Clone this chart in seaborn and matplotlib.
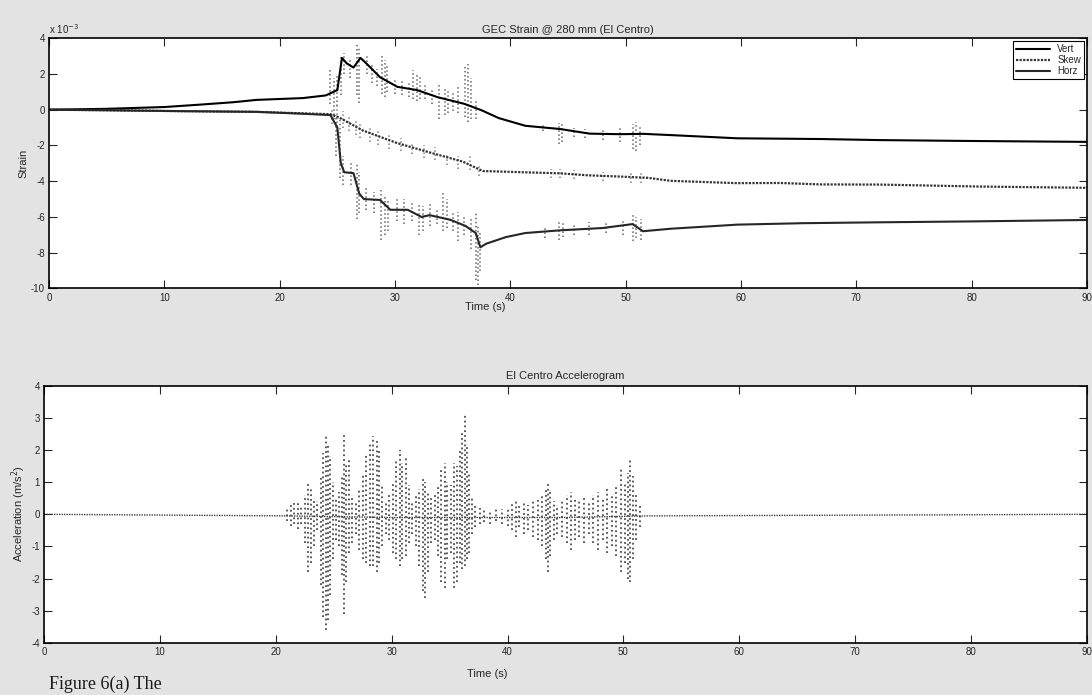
import matplotlib
matplotlib.use("Agg")
import matplotlib.pyplot as plt
import seaborn as sns

# ---- strain traces (units of 1e-3) ----
vert_t = [0, 5, 10, 13, 16, 18, 20, 22, 24, 25.0, 25.4, 25.8, 26.4, 27.0, 27.5, 28.7, 30.2,
          31.9, 33.7, 36.0, 37.5, 39.0, 41.3, 44.3, 46.9, 49.5, 51.5, 53.9, 59.7, 66.9, 72, 80, 90]
vert_v = [0, 0.05, 0.15, 0.28, 0.42, 0.55, 0.6, 0.65, 0.8, 1.1, 2.9, 2.6, 2.36, 2.9, 2.6, 1.82, 1.28,
          1.1, 0.7, 0.33, -0.03, -0.47, -0.9, -1.08, -1.34, -1.37, -1.35, -1.42, -1.6, -1.64, -1.7, -1.75, -1.8]

skew_t = [0, 5, 11.4, 18, 21.8, 24.4, 25.2, 27.2, 30.2, 33, 35.9, 37.6, 41.1, 44.3, 46.7, 49.5,
          51.9, 53.9, 59.7, 63.4, 66.9, 72.1, 80.7, 90]
skew_v = [0, -0.03, -0.08, -0.12, -0.2, -0.25, -0.45, -1.16, -1.87, -2.39, -2.91, -3.43, -3.5, -3.56,
          -3.67, -3.74, -3.81, -3.98, -4.11, -4.1, -4.18, -4.19, -4.3, -4.37]

horz_t = [0, 5, 11.4, 18, 21.8, 24.4, 25.0, 25.3, 25.6, 26.4, 26.9, 27.3, 28.7, 29.6, 31.1, 32.3, 33,
          34.8, 36.1, 37.0, 37.4, 37.9, 39.6, 41.3, 44.3, 48, 50.6, 51.5, 53.9, 59.7, 65.4, 72, 80, 90]
horz_v = [0, -0.03, -0.08, -0.12, -0.22, -0.3, -1.0, -3.0, -3.5, -3.55, -4.7, -5.0, -5.05, -5.6, -5.6,
          -6.0, -5.9, -6.16, -6.5, -6.9, -7.7, -7.5, -7.13, -6.9, -6.75, -6.62, -6.4, -6.8, -6.66,
          -6.43, -6.35, -6.3, -6.25, -6.17]

# noisy excursions around the traces: time, low, high
vert_sp_t = [24.4, 24.7, 25.0, 25.3, 25.6, 26.1, 26.7, 26.85, 27.6, 28.0, 28.4, 28.9, 29.1, 29.3,
             30.0, 30.6, 31.2, 31.6, 31.9, 32.2, 32.6, 33.2, 33.8, 34.3, 34.6, 35.0, 35.5, 36.1,
             36.3, 36.6, 37.0, 42.8, 44.2, 44.5, 45.5, 46.5, 48.0, 49.5, 50.6, 50.9, 51.2]
vert_sp_lo = [0.3, -0.5, 0.2, 0.8, 2.0, 1.8, 0.8, 0.35, 2.0, 1.5, 1.3, 0.9, 0.7, 1.0,
              0.9, 0.8, 0.7, 0.6, 0.5, 0.6, 0.6, 0.3, -0.5, -0.3, -0.2, -0.1, -0.2, -0.4,
              -0.67, -0.5, -0.5, -1.2, -1.93, -1.8, -1.5, -1.6, -1.7, -1.8, -2.2, -2.33, -2.0]
vert_sp_hi = [2.2, 1.8, 2.0, 3.0, 3.2, 2.9, 3.7, 3.5, 3.0, 2.6, 2.3, 3.1, 2.8, 2.5,
              1.8, 1.7, 1.6, 2.2, 2.0, 1.9, 1.5, 1.2, 1.4, 1.2, 1.1, 1.0, 1.3, 2.5,
              2.55, 1.8, 0.6, -0.8, -0.72, -0.8, -1.0, -1.1, -1.1, -1.0, -0.8, -0.67, -0.9]

skew_sp_t = [24.5, 25.0, 25.5, 26.0, 26.6, 27.0, 27.8, 28.5, 29.5, 30.5, 31.5, 32.5, 33.5, 34.5,
             35.5, 36.5, 37.3, 43.5, 44.3, 45.5, 48.0, 50.5, 51.3]
skew_sp_lo = [-0.8, -1.2, -1.0, -1.2, -1.4, -1.6, -1.8, -2.0, -2.2, -2.3, -2.5, -2.7, -2.8, -3.1,
              -3.3, -3.4, -3.7, -3.8, -3.8, -3.9, -4.0, -4.1, -4.1]
skew_sp_hi = [0.1, 0.3, -0.1, -0.4, -0.6, -0.8, -1.0, -1.2, -1.3, -1.6, -1.8, -2.0, -2.1, -2.4,
              -2.6, -2.6, -3.1, -3.3, -3.3, -3.4, -3.5, -3.5, -3.5]

horz_sp_t = [24.9, 25.2, 25.5, 26.2, 26.7, 26.9, 27.5, 28.2, 28.8, 29.1, 29.4, 30.2, 30.8, 31.5,
             32.1, 32.4, 33.0, 33.6, 34.2, 34.5, 35.0, 35.5, 36.0, 36.6, 37.0, 37.2, 37.4, 43.0,
             44.2, 44.6, 45.5, 46.8, 48.3, 49.8, 50.6, 50.9, 51.3]
horz_sp_lo = [-2.6, -3.8, -4.2, -4.2, -6.1, -5.8, -5.6, -5.8, -7.3, -7.0, -6.8, -6.2, -6.4, -6.2,
              -7.0, -6.8, -6.5, -6.4, -6.8, -6.6, -6.8, -7.35, -7.0, -7.8, -9.55, -9.8, -9.0, -7.2,
              -7.3, -7.1, -7.0, -7.0, -6.9, -7.0, -7.33, -7.2, -7.3]
horz_sp_hi = [-0.3, -0.5, -2.6, -3.0, -3.0, -3.5, -4.4, -4.6, -4.5, -4.8, -5.0, -5.0, -5.0, -5.1,
              -5.2, -5.4, -5.3, -5.5, -4.6, -5.0, -5.7, -5.7, -5.9, -6.0, -5.8, -6.5, -6.8, -6.5,
              -6.17, -6.3, -6.4, -6.3, -6.3, -6.1, -5.83, -6.0, -6.1]

# ---- El Centro accelerogram (m/s^2): baseline + oscillation envelope ----
acc_base_t = [0, 21, 30, 37.5, 45, 52, 90]
acc_base_v = [0, -0.05, -0.1, -0.1, -0.1, -0.05, 0]

acc_t = [21.0, 21.3, 21.6, 21.9, 22.2, 22.5, 22.8, 23.0, 23.3, 23.6, 23.9, 24.1, 24.3, 24.5, 24.7,
         24.9, 25.2, 25.5, 25.7, 25.9, 26.1, 26.3, 26.6, 26.9, 27.2, 27.5, 27.8, 28.1, 28.4, 28.7,
         28.9, 29.2, 29.5, 29.8, 30.1, 30.4, 30.7, 30.9, 31.2, 31.5, 31.8, 32.1, 32.4, 32.7, 32.9,
         33.1, 33.4, 33.7, 34.0, 34.3, 34.6, 34.8, 35.1, 35.4, 35.6, 35.9, 36.1, 36.3, 36.5, 36.7,
         36.9, 37.2, 37.6, 38.0, 38.5, 39.0, 39.5, 40.0, 40.4, 40.7, 41.0, 41.4, 41.8, 42.2, 42.6,
         43.0, 43.3, 43.5, 43.7, 44.0, 44.3, 44.7, 45.1, 45.5, 45.8, 46.2, 46.6, 47.0, 47.4, 47.8,
         48.2, 48.6, 49.0, 49.4, 49.8, 50.1, 50.4, 50.6, 50.8, 51.1, 51.4]
acc_hi = [0.2, 0.3, 0.45, 0.35, 0.3, 0.6, 0.95, 0.8, 0.5, 0.4, 1.2, 1.9, 2.5, 2.2, 1.8,
          1.0, 0.5, 0.7, 1.2, 2.5, 1.6, 1.7, 0.6, 0.4, 0.8, 1.3, 1.9, 2.2, 2.45, 2.3,
          2.0, 0.9, 0.4, 0.6, 1.0, 1.7, 2.0, 1.6, 1.8, 0.9, 0.4, 0.6, 0.8, 1.1, 1.0,
          0.7, 0.5, 0.6, 0.9, 1.4, 1.6, 1.0, 0.9, 1.6, 1.5, 2.0, 2.6, 3.1, 2.2, 1.3,
          0.5, 0.3, 0.2, 0.15, 0.1, 0.2, 0.15, 0.2, 0.35, 0.4, 0.3, 0.35, 0.3, 0.4, 0.5,
          0.6, 0.8, 1.0, 0.8, 0.4, 0.3, 0.4, 0.6, 0.7, 0.5, 0.4, 0.5, 0.4, 0.6, 0.7,
          0.5, 0.8, 0.6, 0.9, 1.4, 1.0, 1.3, 1.7, 1.2, 0.6, 0.3]
acc_lo = [-0.2, -0.35, -0.3, -0.45, -0.3, -0.9, -1.8, -1.5, -1.0, -0.5, -2.2, -3.2, -3.6, -3.3, -2.5,
          -1.4, -0.8, -1.0, -1.9, -3.1, -2.1, -1.2, -0.9, -0.6, -1.1, -1.4, -1.5, -1.6, -1.6, -1.8,
          -1.5, -1.0, -0.6, -0.8, -1.2, -1.4, -1.6, -1.4, -1.3, -0.9, -0.6, -1.0, -1.6, -2.4, -2.6,
          -1.8, -0.9, -0.8, -1.3, -2.1, -2.3, -1.4, -1.2, -2.3, -2.1, -1.5, -1.7, -1.6, -1.4, -1.2,
          -0.6, -0.4, -0.3, -0.25, -0.3, -0.2, -0.3, -0.35, -0.5, -0.7, -0.4, -0.6, -0.5, -0.7, -0.8,
          -1.0, -1.4, -1.8, -1.3, -0.8, -0.6, -0.7, -0.9, -1.1, -0.8, -0.7, -0.9, -0.6, -0.9, -1.1,
          -0.8, -1.2, -1.0, -1.3, -1.8, -1.5, -2.0, -2.1, -1.4, -0.8, -0.4]

sns.set_style("ticks")
plt.rcParams['font.family'] = ['Liberation Sans', 'DejaVu Sans']
plt.rcParams['mathtext.fontset'] = 'dejavusans'
plt.rcParams['axes.unicode_minus'] = False

fig = plt.figure(figsize=(10.92, 6.95), dpi=100, facecolor='#e3e3e3')
ax1 = fig.add_axes([0.0449, 0.585, 0.9505, 0.36])
ax2 = fig.add_axes([0.0403, 0.075, 0.9550, 0.37])

# top panel: strain
ax1.vlines(vert_sp_t, vert_sp_lo, vert_sp_hi, colors='0.4', linestyles=':', lw=1.1)
ax1.vlines(skew_sp_t, skew_sp_lo, skew_sp_hi, colors='0.5', linestyles=':', lw=1.1)
ax1.vlines(horz_sp_t, horz_sp_lo, horz_sp_hi, colors='0.4', linestyles=':', lw=1.1)
sns.lineplot(x=vert_t, y=vert_v, ax=ax1, color='black', lw=1.5, label='Vert', estimator=None, sort=False)
sns.lineplot(x=skew_t, y=skew_v, ax=ax1, color='0.2', lw=1.6, linestyle=(0, (1, 0.6)), label='Skew',
             estimator=None, sort=False)
sns.lineplot(x=horz_t, y=horz_v, ax=ax1, color='0.15', lw=1.5, label='Horz', estimator=None, sort=False)

ax1.set_xlim(0, 90)
ax1.set_ylim(-10, 4)
ax1.set_xticks(range(0, 91, 10))
ax1.set_yticks(range(-10, 5, 2))
ax1.set_title('GEC Strain @ 280 mm (El Centro)', fontsize=8, pad=4)
ax1.set_ylabel('Strain', fontsize=8, labelpad=2)
ax1.set_xlabel('Time (s)', fontsize=8, labelpad=0)
ax1.xaxis.set_label_coords(0.42, -0.055)
ax1.text(0.0, 1.01, r'x 10$^{-3}$', transform=ax1.transAxes, fontsize=7, va='bottom', ha='left')
leg = ax1.legend(loc='upper right', fontsize=7, fancybox=False, edgecolor='black', framealpha=1,
                 handlelength=3.5, borderpad=0.3, labelspacing=0.1, borderaxespad=0.3)
leg.get_frame().set_linewidth(0.8)

# bottom panel: accelerogram
ax2.vlines(acc_t, acc_lo, acc_hi, colors='0.3', linestyles=':', lw=1.3)
sns.lineplot(x=acc_base_t, y=acc_base_v, ax=ax2, color='0.25', lw=1.0, linestyle=(0, (1, 0.8)),
             estimator=None, sort=False)
ax2.set_xlim(0, 90)
ax2.set_ylim(-4, 4)
ax2.set_xticks(range(0, 91, 10))
ax2.set_yticks(range(-4, 5, 1))
ax2.set_title('El Centro Accelerogram', fontsize=8, pad=5)
ax2.set_ylabel('Acceleration (m/s$^2$)', fontsize=8, labelpad=2)
ax2.set_xlabel('Time (s)', fontsize=8)
ax2.xaxis.set_label_coords(0.425, -0.1)

for ax in (ax1, ax2):
    ax.set_facecolor('white')
    ax.tick_params(direction='in', length=6, width=0.8, labelsize=7, top=True, right=True, pad=3)
    for s in ax.spines.values():
        s.set_linewidth(1.2)
        s.set_color('black')

# scanned page caption along the bottom edge
fig.text(0.045, 0.003, 'Figure 6(a) The', fontsize=13, family='Liberation Serif',
         va='bottom', ha='left', color='0.1')

fig.savefig('out.png', dpi=100, facecolor=fig.get_facecolor())
